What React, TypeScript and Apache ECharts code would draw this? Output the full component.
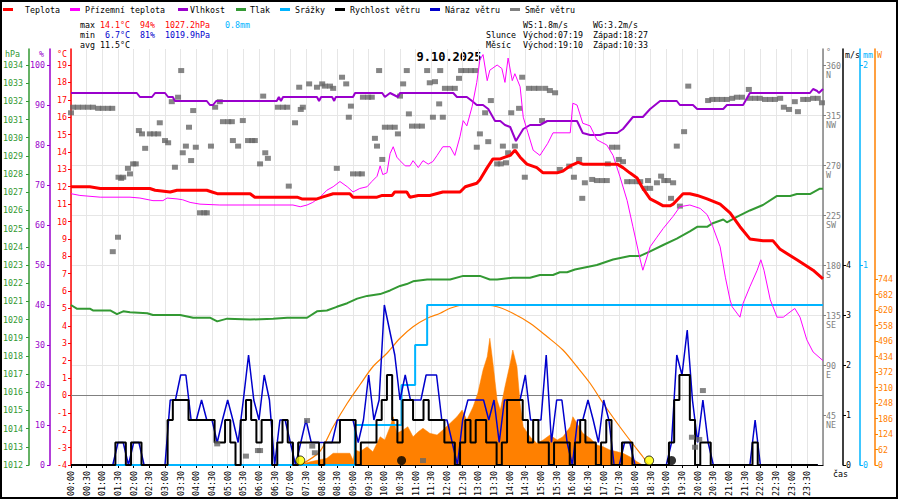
import React, { useEffect, useRef } from "react";
import * as echarts from "echarts";

const FONT = "'DejaVu Sans Mono', 'Liberation Mono', monospace";
const FS = 8.3;

// ---------- data (time in minutes from 00:00) ----------
const tempTimes = [0,36,56,151,161,190,203,213,260,270,280,343,352,366,433,442,471,481,502,534,540,550,586,596,615,620,643,649,665,687,712,745,755,777,783,797,808,822,831,841,850,860,873,892,904,931,942,956,971,980,1000,1046,1057,1070,1084,1095,1109,1122,1134,1147,1153,1172,1185,1199,1218,1243,1262,1281,1300,1325,1344,1358,1390,1421,1440];
const tempValues = [12.0,12.0,11.9,11.9,11.8,11.7,11.8,11.8,11.8,11.7,11.6,11.6,11.4,11.4,11.4,11.3,11.3,11.4,11.6,11.6,11.4,11.4,11.4,11.5,11.5,11.7,11.7,11.4,11.5,11.5,11.7,11.7,12.0,12.2,12.4,13.1,13.6,13.6,13.7,13.8,14.1,13.7,13.3,13.1,12.8,12.8,12.9,13.2,13.4,13.3,13.3,13.3,13.1,12.8,12.5,11.9,11.3,11.1,10.9,10.9,11.0,11.6,11.6,11.5,11.3,11.0,10.5,9.7,9.0,8.9,8.9,8.4,7.8,7.2,6.7];

const appTimes = [0,17,56,113,132,157,176,184,203,214,228,247,285,425,439,452,463,477,490,502,515,529,540,553,567,576,586,592,597,605,611,617,624,630,640,649,655,665,674,684,693,701,712,726,735,745,751,758,768,777,783,789,797,802,816,825,831,837,845,850,860,866,875,885,898,913,923,956,961,969,980,994,1007,1026,1038,1051,1065,1076,1090,1095,1109,1122,1134,1153,1166,1185,1205,1218,1229,1243,1253,1262,1266,1281,1287,1300,1314,1321,1327,1339,1352,1364,1377,1386,1396,1409,1421,1440];
const appValues = [11.6,11.5,11.4,11.4,11.35,11.2,11.2,11.35,11.3,11.25,11.1,11.0,10.95,10.95,10.85,10.95,11.1,11.4,11.8,12.0,12.3,12.0,11.7,11.9,12.0,12.3,12.6,13.2,12.7,12.8,13.9,14.3,13.7,13.5,13.2,13.2,13.5,13.1,13.5,13.3,13.45,13.8,14.3,14.3,13.8,14.9,15.8,15.5,16.6,18.0,19.3,19.6,18.1,18.7,19.0,18.8,18.0,19.4,18.1,18.5,17.75,16.0,15.1,14.1,13.8,14.5,15.1,15.1,16.8,16.7,15.65,15.5,14.7,14.4,13.8,12.6,11.2,9.7,7.8,7.2,8.55,9.1,9.6,10.3,10.85,10.95,10.75,10.4,9.7,8.55,6.8,5.5,5.1,4.5,5.3,6.25,7.2,7.8,7.2,5.5,4.5,4.5,4.8,5.0,4.5,3.2,2.5,2.0];

const humTimes = [0,126,132,155,161,180,186,195,199,260,266,272,278,394,398,402,406,471,475,479,500,504,507,540,544,596,601,611,626,630,732,739,758,768,777,789,799,812,822,831,841,852,866,879,898,912,969,980,994,1013,1026,1046,1057,1076,1095,1109,1128,1160,1166,1180,1191,1199,1249,1256,1287,1300,1415,1421,1429,1432,1440];
const humValues = [93,93,92,92,93,93,92,92,91,91,90,90,91,91,92,91,92,92,91,92,92,91,92,92,93,93,92,93,92,93,93,92,92,91,90,90,89,86,86,85,84.5,81,84,85,85,86,86,83,82.5,82.5,83,83,84,87,87,89,91,91,90,90,90,89,89,90,90,93,93,94,93.5,93,94];

const pressTimes = [0,11,36,42,75,88,100,113,146,157,190,209,234,266,280,299,343,387,414,452,471,490,509,529,548,567,592,611,630,643,655,682,726,751,783,802,816,846,879,898,923,936,950,965,1007,1038,1070,1090,1109,1134,1160,1185,1199,1218,1229,1249,1256,1275,1300,1325,1352,1377,1390,1415,1434,1440];
const pressValues = [1020.8,1020.6,1020.6,1020.5,1020.5,1020.3,1020.45,1020.4,1020.35,1020.25,1020.25,1020.25,1020.1,1020.1,1019.9,1020.05,1020.0,1020.05,1020.1,1020.1,1020.45,1020.5,1020.7,1020.9,1021.15,1021.3,1021.4,1021.6,1021.85,1021.95,1022.1,1022.2,1022.2,1022.4,1022.4,1022.2,1022.2,1022.3,1022.3,1022.45,1022.45,1022.6,1022.6,1022.75,1023.0,1023.3,1023.5,1023.5,1023.75,1024.1,1024.45,1024.85,1025.1,1025.1,1025.3,1025.5,1025.35,1025.65,1026.0,1026.3,1026.8,1026.8,1026.9,1026.9,1027.2,1027.2];

const rainTimes = [0, 544, 633, 659, 682, 1440];
const rainValues = [0, 0.2, 0.4, 0.6, 0.8, 0.8];

// wind, 10-minute steps
const windStep = 10;
const windSpeed = [0,0,0,0,0,0,0,0,0,
  0.45,0.45,0,0.45,0.45,0,
  0,0,0,0,
  0.9,1.3,1.3,1.3,0.9,0.9,0.9,0.9,0.9,0.45,0.45,
  0.9,0.45,0,0.9,1.3,0.9,0.45,0.9,0.9,0,
  0.45,0.9,0.45,0,0.45,0.45,0.45,0.45,0,0.45,
  0.45,0.45,0.9,0.9,0.9,0,0.45,0.45,0.45,0.9,
  1.3,1.8,0.9,0.45,1.3,1.3,0.9,0.9,1.3,0.9,
  0.9,0.9,0.45,0.45,0,0.45,0.9,0.45,0.9,0.9,
  0.45,0.45,0,0.45,1.3,1.3,1.3,0.9,0.45,0.9,
  0.45,0.45,0,0.45,0.45,0.45,0,0.45,0.9,0.45,
  0.45,0,0.45,0.9,0,0,0.45,0.45,0,0,
  0,0,0,0,0,0.45,1.3,1.8,1.8,0.9,
  0,0.45,0.45,0,0,0,0,0,0,0,
  0,0.45,0,0,0,0,0,0,0,0,
  0,0,0,0];
const windGust = [0,0,0,0,0,0,0,0,0,
  0.45,0.45,0,0.45,0.45,0,
  0,0,0,0,
  1.3,1.3,1.8,1.8,0.9,0.9,1.3,0.9,0.9,0.45,0.9,
  1.3,0.9,0.45,1.3,2.2,1.3,0.9,1.8,1.3,0,
  0.9,0.9,0.45,0,0.45,0.9,0.45,0.45,0.45,0.45,
  0.45,0.9,0.9,0.9,0.9,0.45,0.9,1.8,0.9,1.3,
  3.2,2.7,2.2,1.3,1.8,1.3,1.3,1.3,1.8,1.8,
  1.8,0.9,0.9,0.45,0,0.9,1.3,1.3,1.3,1.3,
  0.9,1.3,0.45,1.3,1.3,1.3,1.3,1.8,0.9,0.9,
  0.9,2.2,0.45,1.3,1.3,0.45,0,0.9,0.9,1.3,
  0.9,0.45,1.3,0.9,0,0,0.45,0.45,0,0,
  0,0,0,0,0,0.45,2.2,1.8,2.7,1.3,
  0.45,1.3,0.45,0,0,0,0,0,0,0,
  0,0.9,0,0,0,0,0,0,0,0,
  0,0,0,0];

const dirTimes = [0,4,13,23,33,42,52,61,71,79,80,90,91,96,100,109,113,119,124,130,136,142,151,159,167,170,180,186,193,199,205,211,214,220,226,230,234,239,247,255,260,268,276,280,285,291,301,308,310,320,329,335,339,347,352,358,362,362,368,372,377,396,406,414,417,429,437,440,444,452,456,462,467,471,481,486,496,502,509,519,527,532,536,540,550,557,559,569,576,582,586,590,596,601,611,620,626,630,636,643,647,653,663,672,674,682,687,693,697,705,707,712,716,726,735,743,747,756,766,774,777,783,793,799,804,816,823,827,833,837,843,850,858,864,869,877,887,896,902,908,917,927,936,954,963,973,979,984,998,1007,1017,1026,1028,1036,1046,1049,1057,1065,1074,1084,1090,1099,1105,1109,1122,1130,1136,1143,1149,1153,1160,1166,1174,1182,1189,1195,1203,1210,1220,1228,1237,1247,1256,1266,1275,1285,1298,1300,1310,1319,1329,1339,1348,1358,1365,1375,1386,1392,1402,1411,1421,1430,1438];
const dirValues = [317,322,322,322,322,322,321,321,321,321,192,205,259,258,259,267,262,271,271,301,298,285,298,298,298,308,292,290,327,268,331,355,281,287,304,274,319,286,227,227,227,287,322,19,327,309,309,309,292,287,310,8,292,292,292,13,13,271,332,281,276,322,322,322,251,308,340,320,322,40,343,17,11,340,343,341,341,339,267,349,343,313,323,262,262,262,331,331,331,294,287,355,275,304,304,304,298,332,343,355,316,305,305,305,4,355,344,313,345,325,355,313,339,339,339,348,355,355,355,355,286,298,317,291,328,271,271,287,272,281,317,287,321,349,259,339,339,339,310,339,337,335,266,269,259,275,240,254,257,256,256,256,271,286,286,275,273,255,255,255,255,249,256,249,254,260,256,256,240,254,287,233,300,341,25,16,23,67,328,329,329,329,329,330,331,331,338,330,330,330,329,329,329,330,322,320,327,318,329,329,330,330,326];

const solarTimes = [440,444,458,490,502,534,540,544,553,567,578,592,601,611,617,624,636,645,655,665,674,687,701,712,726,739,749,758,770,779,789,797,802,808,816,822,831,841,846,854,860,866,879,892,904,917,931,942,956,961,971,980,994,1007,1019,1032,1046,1057,1070,1084,1095];
const solarValues = [0,5,13,27,47,47,20,60,53,73,53,113,100,153,193,127,140,153,113,133,147,127,120,140,167,193,220,180,233,287,380,433,507,407,260,220,313,407,460,393,247,153,113,87,100,120,100,113,153,193,160,127,107,80,73,60,53,47,33,13,0];

const clearTimes = [439,476,502,529,553,578,605,630,655,682,707,726,751,777,816,846,879,912,942,969,994,1019,1046,1070,1095,1107];
const clearValues = [0,53,153,247,320,393,447,507,553,587,607,627,640,641,633,607,567,513,460,393,327,247,167,100,33,0];

const sunTimes = [439, 1107];   // východ 07:19, západ 18:27
const moonTimes = [633, 1150];  // západ 10:33, východ 19:10

// tick labels
const tempTicks = [-4,-3,-2,-1,0,1,2,3,4,5,6,7,8,9,10,11,12,13,14,15,16,17,18,19];
const humTicks = [0,10,20,30,40,50,60,70,80,90,100];
const pressTicks = [1012,1013,1014,1015,1016,1017,1018,1019,1020,1021,1022,1023,1024,1025,1026,1027,1028,1029,1030,1031,1032,1033,1034];
const dirTicks = [45,90,135,180,225,270,315,360];
const dirNames = ["NE","E","SE","S","SW","W","NW","N"];
const windTicks = [0,1,2,3,4];
const rainTicks = [0,1,2];
const solarTicks = [0,62,124,186,248,310,372,434,496,558,620,682,744];

// ---------- helpers ----------
const zip = (t: number[], v: number[]) => t.map((x, i) => [x, v[i]]);
const hhmm = (m: number) =>
  `${String(Math.floor(m / 60)).padStart(2, "0")}:${String(m % 60).padStart(2, "0")}`;

const C = {
  temp: "#ff0000",
  app: "#ff00ff",
  hum: "#9900cc",
  press: "#339933",
  rain: "#00b4ff",
  speed: "#000000",
  gust: "#0000cc",
  dir: "#666666",
  solar: "#ff8000",
  blue: "#0000cc",
};

const txt = (x: number, y: number, text: string, fill: string, extra: any = {}) => ({
  type: "text",
  x,
  y,
  silent: true,
  style: { text, fill, fontSize: FS, fontFamily: FONT, verticalAlign: "middle", align: "left", ...extra },
});
const bar = (x: number, color: string) => ({
  type: "rect",
  x,
  y: 8,
  silent: true,
  shape: { x: 0, y: 0, width: 10, height: 3 },
  style: { fill: color },
});

function yAxisBase(o: any) {
  const color = o.color;
  return {
    type: "value",
    position: o.position,
    offset: o.offset,
    min: o.min,
    max: o.max,
    interval: o.interval,
    axisLine: { show: true, lineStyle: { color, width: 1.5 } },
    axisTick: { show: true, length: 3, customValues: o.ticks, lineStyle: { color } },
    axisLabel: {
      color,
      fontSize: FS,
      fontFamily: FONT,
      margin: o.margin ?? 4,
      customValues: o.ticks,
      formatter: o.formatter ?? ((v: number) => (o.ticks.includes(v) ? String(v) : "")),
      ...(o.labelExtra || {}),
    },
    splitLine: o.splitLine ?? { show: false },
  };
}

function buildOption() {
  const windTimes = windSpeed.map((_, i) => i * windStep);
  return {
    animation: false,
    backgroundColor: "#ffffff",
    textStyle: { fontFamily: FONT },
    grid: { left: 71, right: 77, top: 49, bottom: 35, containLabel: false },
    xAxis: {
      type: "value",
      min: 0,
      max: 1440,
      interval: 30,
      axisLine: { show: true, onZero: false, lineStyle: { color: "#000" } },
      axisTick: { show: true, length: 3, lineStyle: { color: "#000" } },
      axisLabel: {
        rotate: 90,
        fontSize: FS,
        fontFamily: FONT,
        color: "#000",
        margin: 6,
        showMaxLabel: false,
        formatter: (v: number) => (v >= 1440 ? "" : hhmm(v)),
      },
      splitLine: { show: true, lineStyle: { color: "#e6e6e6", width: 1 } },
    },
    yAxis: [
      yAxisBase({ position: "left", offset: 0, min: -4, max: 19.92, interval: 1, color: C.temp, ticks: tempTicks, margin: 4 }),
      yAxisBase({ position: "left", offset: 21, min: 0, max: 104, interval: 10, color: C.hum, ticks: humTicks, margin: 5 }),
      yAxisBase({ position: "left", offset: 42, min: 1012, max: 1034.88, interval: 1, color: C.press, ticks: pressTicks, margin: 6 }),
      yAxisBase({
        position: "right", offset: 0, min: 0, max: 374.4, interval: 45, color: "#808080", ticks: dirTicks, margin: 3,
        formatter: (v: number) => {
          const k = dirTicks.indexOf(v);
          return k < 0 ? "" : `${v}\n${dirNames[k]}`;
        },
        labelExtra: { lineHeight: 9, verticalAlign: "top", padding: [-4, 0, 0, 0] },
        splitLine: { show: true, showMinLine: false, showMaxLine: false, lineStyle: { color: "#e6e6e6", width: 1 } },
      }),
      yAxisBase({ position: "right", offset: 20, min: 0, max: 8.32, interval: 1, color: "#000000", ticks: windTicks, margin: 3 }),
      yAxisBase({ position: "right", offset: 37, min: 0, max: 2.08, interval: 1, color: C.rain, ticks: rainTicks, margin: 3 }),
      yAxisBase({ position: "right", offset: 52, min: 0, max: 1664, interval: 62, color: C.solar, ticks: solarTicks, margin: 3 }),
    ],
    series: [
      {
        name: "Sluneční záření", type: "line", yAxisIndex: 6, z: 1, symbol: "none",
        data: zip(solarTimes, solarValues),
        lineStyle: { width: 0.5, color: C.solar },
        areaStyle: { color: C.solar, opacity: 1 },
      },
      {
        name: "Teoretické záření", type: "line", yAxisIndex: 6, z: 2, symbol: "none", smooth: 0.3,
        data: zip(clearTimes, clearValues),
        lineStyle: { width: 1.2, color: C.solar },
      },
      {
        name: "Tlak", type: "line", yAxisIndex: 2, z: 3, symbol: "none",
        data: zip(pressTimes, pressValues),
        lineStyle: { width: 2, color: C.press },
      },
      {
        name: "Srážky", type: "line", yAxisIndex: 5, z: 3, symbol: "none", step: "end",
        data: zip(rainTimes, rainValues),
        lineStyle: { width: 2, color: C.rain },
      },
      {
        name: "Náraz větru", type: "line", yAxisIndex: 4, z: 4, symbol: "none",
        data: zip(windTimes, windGust),
        lineStyle: { width: 1.5, color: C.gust },
      },
      {
        name: "Rychlost větru", type: "line", yAxisIndex: 4, z: 5, symbol: "none", step: "middle",
        data: zip(windTimes, windSpeed),
        lineStyle: { width: 2, color: C.speed },
      },
      {
        name: "Směr větru", type: "scatter", yAxisIndex: 3, z: 6,
        symbol: "rect", symbolSize: [6, 5],
        data: zip(dirTimes, dirValues),
        itemStyle: { color: C.dir },
      },
      {
        name: "Vlhkost", type: "line", yAxisIndex: 1, z: 7, symbol: "none",
        data: zip(humTimes, humValues),
        lineStyle: { width: 2, color: C.hum },
      },
      {
        name: "Přízemní teplota", type: "line", yAxisIndex: 0, z: 8, symbol: "none",
        data: zip(appTimes, appValues),
        lineStyle: { width: 1, color: C.app },
      },
      {
        name: "Teplota", type: "line", yAxisIndex: 0, z: 9, symbol: "none",
        data: zip(tempTimes, tempValues),
        lineStyle: { width: 3, color: C.temp },
        markLine: {
          silent: true, z: 1, symbol: ["none", "none"], label: { show: false },
          lineStyle: { color: "#808080", type: "solid", width: 1 },
          data: [{ yAxis: 0 }],
        },
      },
      {
        name: "Slunce", type: "scatter", yAxisIndex: 6, z: 10, symbol: "circle", symbolSize: 9,
        data: sunTimes.map((t) => [t, 18]),
        itemStyle: { color: "#ffff00", borderColor: "#000", borderWidth: 1 },
      },
      {
        name: "Měsíc", type: "scatter", yAxisIndex: 6, z: 10, symbol: "circle", symbolSize: 9,
        data: moonTimes.map((t) => [t, 18]),
        itemStyle: { color: "#000000" },
      },
    ],
    graphic: [
      { type: "rect", silent: true, shape: { x: 1, y: 1, width: 896, height: 497 }, style: { fill: "none", stroke: "#000", lineWidth: 2 } },
      // legend
      bar(3, C.temp), txt(25, 9.5, "Teplota", "#000"),
      bar(70, C.app), txt(85, 9.5, "Přízemní teplota", "#000"),
      bar(178, C.hum), txt(190, 9.5, "Vlhkost", "#000"),
      bar(236, C.press), txt(250, 9.5, "Tlak", "#000"),
      bar(280, C.rain), txt(295, 9.5, "Srážky", "#000"),
      bar(335, C.speed), txt(350, 9.5, "Rychlost větru", "#000"),
      bar(430, C.gust), txt(445, 9.5, "Náraz větru", "#000"),
      bar(510, "#808080"), txt(525, 9.5, "Směr větru", "#000"),
      // stats
      txt(80, 24.5, "max", "#000"), txt(100, 24.5, "14.1°C", C.temp), txt(140, 24.5, "94%", C.temp),
      txt(165, 24.5, "1027.2hPa", C.temp), txt(225, 24.5, "0.8mm", C.rain),
      txt(80, 34.5, "min", "#000"), txt(105, 34.5, "6.7°C", C.blue), txt(140, 34.5, "81%", C.blue),
      txt(165, 34.5, "1019.9hPa", C.blue),
      txt(80, 44.5, "avg", "#000"), txt(100, 44.5, "11.5°C", "#000"),
      txt(523, 24.5, "WS:1.8m/s", "#000"), txt(593, 24.5, "WG:3.2m/s", "#000"),
      txt(486, 34.5, "Slunce", "#000"), txt(523, 34.5, "Východ:07:19", "#000"), txt(593, 34.5, "Západ:18:27", "#000"),
      txt(486, 44.5, "Měsíc", "#000"), txt(523, 44.5, "Východ:19:10", "#000"), txt(593, 44.5, "Západ:10:33", "#000"),
      // title
      txt(449, 56.5, "9.10.2025", "#000", { fontSize: 12, fontWeight: "bold", align: "center" }),
      // axis names
      txt(5, 54, "hPa", C.press), txt(39, 54, "%", C.hum), txt(57, 54, "°C", C.temp),
      txt(826, 52, "°", "#808080"), txt(845, 55, "m/s", "#000"), txt(863, 55, "mm", C.rain), txt(877, 55, "W", C.solar),
      txt(833, 474, "čas", "#000"),
    ],
  };
}

export default function App() {
  const ref = useRef<HTMLDivElement>(null);
  useEffect(() => {
    if (!ref.current) return;
    const chart = echarts.init(ref.current, null, { renderer: "svg" });
    chart.setOption(buildOption() as any);
    return () => chart.dispose();
  }, []);
  return (
    <div
      ref={ref}
      style={{ position: "fixed", left: 0, top: 0, width: 900, height: 500, background: "#fff" }}
    />
  );
}
